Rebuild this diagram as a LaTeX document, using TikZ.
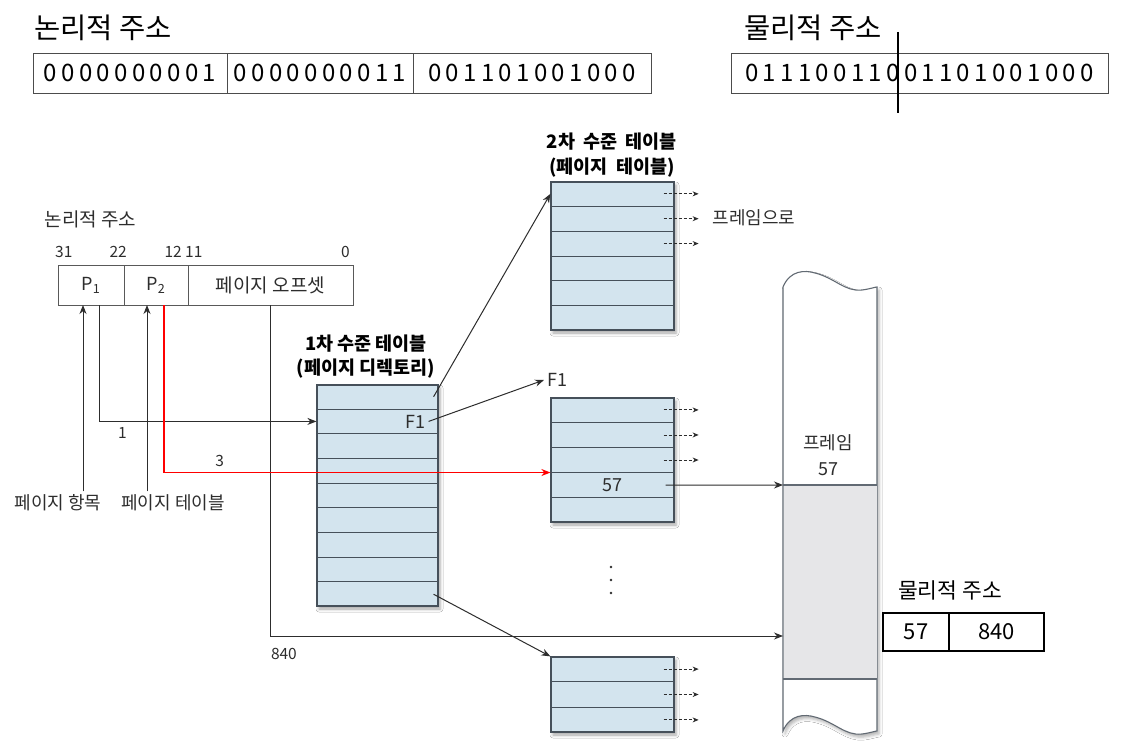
\documentclass[tikz,border=0pt]{standalone}
\usepackage{fontspec}
\setmainfont{Noto Sans CJK KR}
\usetikzlibrary{arrows.meta,positioning,calc,shadows.blur}
\definecolor{tblfill}{RGB}{211,228,238}
\definecolor{tblline}{RGB}{70,80,90}
\definecolor{ink}{RGB}{45,45,45}
\definecolor{memgray}{RGB}{230,230,232}

\begin{document}
\begin{tikzpicture}[
  x=1pt, y=-1pt,
  >={Stealth[length=9pt,width=7pt]},
  font=\fontsize{18pt}{21pt}\selectfont,
  text=ink,
  title/.style={font=\fontsize{28.5pt}{32pt}\selectfont, text=black, anchor=west},
  bits/.style={draw=black!70, line width=0.9pt, outer sep=0pt, minimum height=40pt, text=black, font=\fontsize{24pt}{28pt}\selectfont\addfontfeature{LetterSpace=18}},
  cell/.style={draw=black!65, line width=0.9pt, outer sep=0pt, minimum height=40pt},
  bitno/.style={font=\fontsize{15.5pt}{17pt}\selectfont, inner sep=0pt},
  caption/.style={font=\fontsize{18.5pt}{24pt}\selectfont\bfseries, text=black, align=center},
  tbl/.style={draw=tblline, line width=1.2pt, fill=tblfill, minimum width=123pt, blur shadow={shadow xshift=2pt, shadow yshift=-3pt, shadow blur radius=3pt, shadow opacity=35}},
  rowline/.style={draw=tblline, line width=1pt},
  arrow/.style={->, draw=ink, line width=1pt},
  redarrow/.style={->, draw=red, line width=1.5pt},
  dasharrow/.style={-{Stealth[length=6pt,width=5pt]}, draw=ink, line width=0.9pt, dash pattern=on 3pt off 2pt},
  pcell/.style={draw=black, line width=1.6pt, outer sep=0pt, minimum height=38pt, text=black, font=\fontsize{22pt}{26pt}\selectfont}
]
\path[use as bounding box, fill=white] (0,0) rectangle (1124,749);

% address registers at the top
\node[title] (latitle) at (31,28) {논리적 주소};
\node[bits, minimum width=194pt] (la1) at (130,73) {0000000001};
\node[bits, minimum width=186pt, right=0pt of la1] (la2) {0000000011};
\node[bits, minimum width=238pt, right=0pt of la2] (la3) {001101001000};
\node[title] (patitle) at (741,28) {물리적 주소};
\node[bits, minimum width=377pt] (pa) at (919.5,73) {01110011001101001000};
\draw[line width=2.6pt] (898,32) -- (898,113);

% logical address fields
\node[font=\fontsize{19pt}{22pt}\selectfont, anchor=west] (latitle2) at (41,219) {논리적 주소};
\node[cell, minimum width=66pt] (p1) at (91,285) {P\textsubscript{1}};
\node[cell, minimum width=64pt, right=0pt of p1] (p2) {P\textsubscript{2}};
\node[cell, minimum width=165pt, right=0pt of p2, font=\fontsize{19pt}{22pt}\selectfont] (off) {페이지 오프셋};
\node[bitno, anchor=base west] (b31) at ([xshift=-3pt, yshift=8pt]p1.north west) {31};
\node[bitno, anchor=base east] (b22) at ([xshift=3pt, yshift=8pt]p1.north east) {22};
\node[bitno, anchor=base east] (b12) at ([xshift=-6pt, yshift=8pt]p2.north east) {12};
\node[bitno, anchor=base west] (b11) at ([xshift=-3pt, yshift=8pt]p2.north east) {11};
\node[bitno, anchor=base east] (b0) at ([xshift=-3pt, yshift=8pt]off.north east) {0};
\node (entlbl) at (58,503) {페이지 항목};
\node (ptlbl) at (173,503) {페이지 테이블};

% page directory and page tables
\node[caption] (pdcap) at (366,357) {1차 수준 테이블\\(페이지 디렉토리)};
\node[tbl, minimum height=221pt, minimum width=121pt] (pd) at (377.5,495.5) {};
\node[caption, font=\fontsize{18.5pt}{25pt}\selectfont\bfseries] (ptcap) at (612,155) {2차\hspace{0.45em}수준\hspace{0.45em}테이블\\(페이지\hspace{0.45em}테이블)};
\node[tbl, minimum height=148pt] (pt1) at (612.5,256) {};
\node[tbl, minimum height=124pt] (pt2) at (612.5,460) {};
\node[tbl, minimum height=75pt] (pt3) at (612.5,694.5) {};
\foreach \tb/\n in {pd/9, pt1/6, pt2/5, pt3/3} {
  \foreach \k in {1,...,\n} {
    \pgfmathsetmacro\f{(\k-0.5)/\n}
    \coordinate (\tb-e\k) at ($(\tb.north east)!\f!(\tb.south east)$);
    \coordinate (\tb-w\k) at ($(\tb.north west)!\f!(\tb.south west)$);
  }
  \pgfmathtruncatemacro\m{\n-1}
  \foreach \k in {1,...,\m} {
    \pgfmathsetmacro\f{\k/\n}
    \draw[rowline] ($(\tb.north west)!\f!(\tb.south west)$) -- ($(\tb.north east)!\f!(\tb.south east)$);
  }
}
\coordinate (pt2in) at ($(pt2.north west)!0.6!(pt2.south west)$);
\node[anchor=east] (f1) at ([xshift=-10pt]pd-e2) {F1};
\node[anchor=west] (f1tag) at (544,380) {F1};
\node (f57) at ($(pt2-w4)!0.5!(pt2-e4)$) {57};
\node[anchor=west] (tofrm) at (709,218) {프레임으로};
\foreach \yy in {567,580,593} \fill[ink] (611,\yy) circle (1.3pt);

% physical memory
\path[fill=white, draw=tblline!85, line width=1.1pt, blur shadow={shadow xshift=2pt, shadow yshift=-3pt, shadow blur radius=3pt, shadow opacity=30}]
  (783,287) .. controls (790,270) and (805,270) .. (815,273)
  .. controls (835,278) and (845,292) .. (862,290)
  .. controls (870,289) and (875,287) .. (877,287) -- (877,731)
  .. controls (875,731) and (870,733) .. (862,734)
  .. controls (845,736) and (835,722) .. (815,717)
  .. controls (805,714) and (790,714) .. (783,731) -- cycle;
\fill[memgray] (783.5,485) rectangle (876.5,679);
\draw[tblline!85, line width=1.1pt] (783,485) -- (877,485) (783,679) -- (877,679);
\coordinate (mem57) at (783,485);
\coordinate (memoff) at (783,636);
\node[align=center, font=\fontsize{18pt}{26pt}\selectfont] (frmlbl) at (828,455) {프레임\\57};

\node[font=\fontsize{21.5pt}{24pt}\selectfont, text=black] (pacap) at (950,590) {물리적 주소};
\node[pcell, minimum width=66pt] (pa57) at (916,632) {57};
\node[pcell, minimum width=95pt, right=0pt of pa57] (pa840) {840};

% connectors
\draw[arrow] ([xshift=-5pt]pd-e1) -- (pt1-w1);
\draw[arrow] (f1.east) -- (f1tag.west);
\draw[arrow] ([xshift=-5pt]pd-e9) -- (pt3.north west);
\draw[arrow] ([xshift=-9pt]pt2-e4) -- (mem57);
\foreach \tb in {pt1,pt2,pt3}
  \foreach \k in {1,2,3}
    \draw[dasharrow] ([xshift=-11pt]\tb-e\k) -- ++(35,0);
\draw[arrow] ($(p1.south |- entlbl.north)+(-8,0)$) -- ([xshift=-8pt]p1.south);
\draw[arrow] ($(p2.south |- ptlbl.north)+(-9,0)$) -- ([xshift=-9pt]p2.south);
\draw[arrow] ([xshift=8pt]p1.south) |- node[pos=0.554, below=2pt, font=\fontsize{15.5pt}{17pt}\selectfont] (lbl1) {1} (pd-w2);
\draw[arrow] (off.south) |- node[pos=0.5, anchor=north west, inner sep=0pt, yshift=-12pt, font=\fontsize{15.5pt}{17pt}\selectfont] (lbl840) {840} (memoff);
\draw[redarrow] ([xshift=8pt]p2.south) |- node[pos=0.572, above=2pt, font=\fontsize{15.5pt}{17pt}\selectfont] (lbl3) {3} (pt2in);
\end{tikzpicture}
\end{document}
